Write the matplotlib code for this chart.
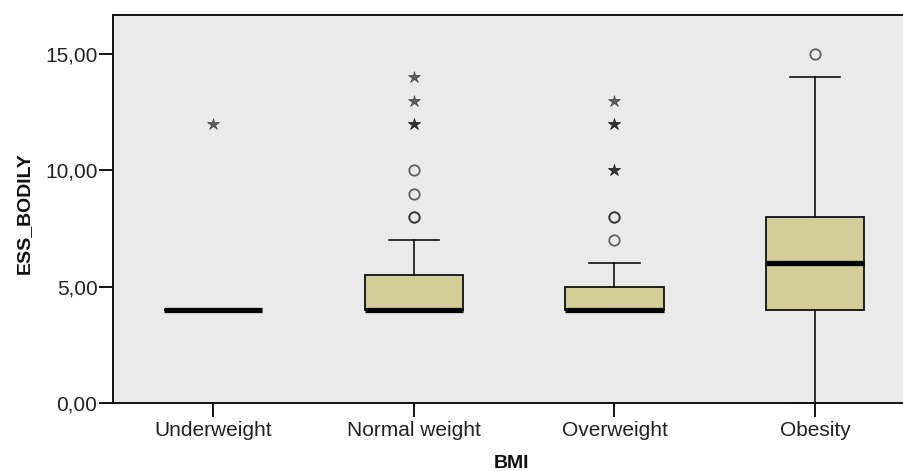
import numpy as np
import matplotlib.pyplot as plt

# ---- data ----
categories = ["Underweight", "Normal weight", "Overweight", "Obesity"]
q1 = [4, 4, 4, 4]
median = [4, 4, 4, 6]
q3 = [4, 5.5, 5, 8]
whisker_low = [4, 4, 4, 0]
whisker_high = [4, 7, 6, 14]

# outliers (circles) and extreme values (stars); repeated values = overlapping cases
outliers = [[], [8, 8, 9, 10], [7, 8, 8], [15]]
extremes = [[12], [12, 12, 13, 14], [10, 10, 12, 12, 13], []]

plt.rcParams['font.family'] = ['Liberation Sans', 'DejaVu Sans']

fig = plt.figure(figsize=(9.04, 4.71), dpi=100)
ax = fig.add_axes([0.1247, 0.1444, 0.888, 0.8238])
ax.set_facecolor('#EAEAEA')

positions = np.arange(1, len(categories) + 1)
stats = []
for i, name in enumerate(categories):
    stats.append(dict(label=name, q1=q1[i], med=median[i], q3=q3[i],
                      whislo=whisker_low[i], whishi=whisker_high[i], fliers=[]))

ax.bxp(stats, positions=positions, widths=0.49, capwidths=0.25,
       showfliers=False, patch_artist=True,
       boxprops=dict(facecolor='#D3CE97', edgecolor='#111111', linewidth=1.3),
       medianprops=dict(color='black', linewidth=3.8, solid_capstyle='butt'),
       whiskerprops=dict(color='#111111', linewidth=1.2),
       capprops=dict(color='#111111', linewidth=1.2))

for i, pos in enumerate(positions):
    if outliers[i]:
        ax.plot([pos] * len(outliers[i]), outliers[i], linestyle='none', marker='o',
                markersize=7.5, markerfacecolor='none', markeredgecolor='#333333',
                markeredgewidth=1.3, alpha=0.75)
    if extremes[i]:
        ax.plot([pos] * len(extremes[i]), extremes[i], linestyle='none', marker='*',
                markersize=9, markerfacecolor='#222222', markeredgecolor='#222222',
                markeredgewidth=0.5, alpha=0.7)

ax.set_xlim(0.5, 4.5)
ax.set_ylim(0, 16.68)
ax.set_yticks([0, 5, 10, 15])
ax.set_yticklabels(["0,00", "5,00", "10,00", "15,00"])
ax.set_xticks(positions)
ax.set_xticklabels(categories)

ax.tick_params(axis='y', direction='out', length=10, width=1.3, pad=1,
               labelsize=15, labelcolor='#222222')
ax.tick_params(axis='x', direction='out', length=10, width=1.3, pad=3,
               labelsize=15, labelcolor='#222222')

for side in ['left', 'bottom', 'top']:
    ax.spines[side].set_linewidth(1.4)
    ax.spines[side].set_color('#111111')
ax.spines['right'].set_visible(False)

ax.set_ylabel("ESS_BODILY", fontsize=14, fontweight='bold', color='#111111')
ax.yaxis.set_label_coords(-0.100, 0.49)
ax.set_xlabel("BMI", fontsize=14, fontweight='bold', color='#111111')
ax.xaxis.set_label_coords(0.497, -0.134)

fig.savefig("out.png", dpi=100)
